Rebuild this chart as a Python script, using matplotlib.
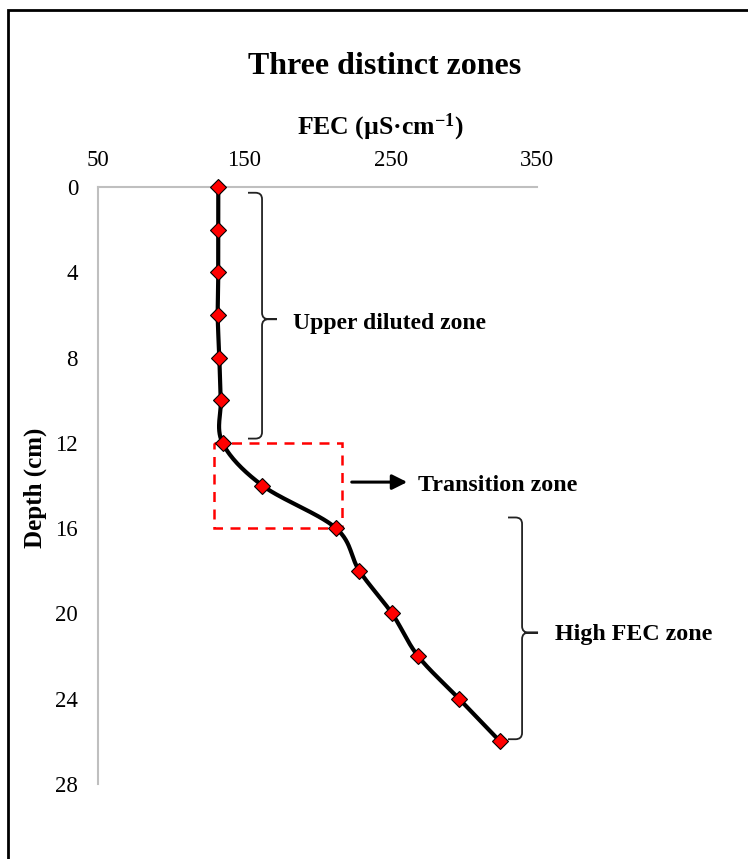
import numpy as np
import matplotlib
matplotlib.use("Agg")
import matplotlib.pyplot as plt
from matplotlib.path import Path
from matplotlib.patches import PathPatch, Rectangle

plt.rcParams['font.family'] = ['Liberation Serif', 'DejaVu Serif']
plt.rcParams['mathtext.fontset'] = 'custom'
plt.rcParams['mathtext.rm'] = 'Liberation Serif:bold'
plt.rcParams['mathtext.bf'] = 'Liberation Serif:bold'
plt.rcParams['mathtext.default'] = 'bf'

# ---- data ----
depth = [0, 2, 4, 6, 8, 10, 12, 14, 16, 18, 20, 22, 24, 26]
fec = [132.2, 132.2, 132.2, 131.8, 132.9, 133.9, 135.1, 162.3, 212.6, 228.6, 250.9, 268.7, 296.7, 324.7]
x_ticks = [50, 150, 250, 350]
y_ticks = [0, 4, 8, 12, 16, 20, 24, 28]
title = "Three distinct zones"
x_label = "FEC (µS·cm$^{-1}$)"
y_label = "Depth (cm)"
zone_labels = ["Upper diluted zone", "Transition zone", "High FEC zone"]

W, H = 748, 859
fig = plt.figure(figsize=(W / 100, H / 100), dpi=100)
ax = fig.add_axes([98 / W, 1 - 784 / H, (537 - 98) / W, (784 - 187) / H])

# smoothed line (Excel-like Bezier smoothing)
P = np.column_stack([fec, depth]).astype(float)
n = len(P)
xs, ys = [], []
for i in range(n - 1):
    p0 = P[max(i - 1, 0)]
    p1 = P[i]
    p2 = P[i + 1]
    p3 = P[min(i + 2, n - 1)]
    c1 = p1 + (p2 - p0) / 6.0
    c2 = p2 - (p3 - p1) / 6.0
    t = np.linspace(0, 1, 30)[:, None]
    seg = (1 - t) ** 3 * p1 + 3 * (1 - t) ** 2 * t * c1 + 3 * (1 - t) * t ** 2 * c2 + t ** 3 * p2
    xs.extend(seg[:, 0]); ys.extend(seg[:, 1])
ax.plot(xs, ys, color='black', lw=3, solid_capstyle='round', zorder=3, clip_on=False)
ax.plot(fec, depth, ls='none', marker='D', ms=8.5, mfc='#FF0000', mec='black', mew=0.8, zorder=4, clip_on=False)

ax.set_xlim(50, 350)
ax.set_ylim(28, 0)
ax.xaxis.tick_top()
ax.set_xticks(x_ticks)
ax.set_yticks(y_ticks)
ax.tick_params(length=0, labelsize=16.5, colors='black')
ax.tick_params(axis='y', pad=14.4)
ax.tick_params(axis='x', pad=11.5)
for s in ['right', 'bottom']:
    ax.spines[s].set_visible(False)
for s in ['left', 'top']:
    ax.spines[s].set_color('#BFBFBF')
    ax.spines[s].set_linewidth(1.5)

# texts
fig.text(385 / W, 1 - 66 / H, title, ha='center', va='center', fontsize=23, fontweight='bold')
fig.text(380 / W, 1 - 127 / H, x_label, ha='center', va='center', fontsize=18.5, fontweight='bold')
fig.text(35 / W, 1 - 488 / H, y_label, ha='center', va='center', fontsize=18, fontweight='bold', rotation=90)

# transition box
ax.add_patch(Rectangle((129.3, 12), 216.7 - 129.3, 4, fill=False, ec='#FF0000', ls=(0, (4, 3)), lw=1.8, zorder=2))

# arrow
ax.annotate('', xy=(263.2, 13.84), xytext=(221.5, 13.84),
            arrowprops=dict(arrowstyle='-|>,head_length=0.9,head_width=0.45', color='black', lw=2.2),
            annotation_clip=False)


def brace(xl, xs_, xt, top, mid, bot):
    rx, ry = 4.5, 0.3
    verts = [(xl, top), (xs_ - rx, top), (xs_, top), (xs_, top + ry), (xs_, mid - ry),
             (xs_, mid), (xs_ + rx, mid), (xt, mid),
             (xs_ + rx, mid), (xs_, mid), (xs_, mid + ry), (xs_, bot - ry),
             (xs_, bot), (xs_ - rx, bot), (xl, bot)]
    codes = [Path.MOVETO, Path.LINETO, Path.CURVE3, Path.CURVE3, Path.LINETO,
             Path.CURVE3, Path.CURVE3, Path.LINETO,
             Path.LINETO, Path.CURVE3, Path.CURVE3, Path.LINETO,
             Path.CURVE3, Path.CURVE3, Path.LINETO]
    ax.add_patch(PathPatch(Path(verts, codes), fill=False, ec='#222222', lw=1.3, clip_on=False, zorder=2))


brace(152.5, 162.1, 172.3, 0.27, 6.2, 11.8)
brace(330.2, 339.8, 350.7, 15.5, 20.9, 25.9)

ax.text(183.3, 6.4, zone_labels[0], ha='left', va='center', fontsize=17, fontweight='bold', clip_on=False)
ax.text(268.7, 14.0, zone_labels[1], ha='left', va='center', fontsize=17.3, fontweight='bold', clip_on=False)
ax.text(362.3, 21.0, zone_labels[2], ha='left', va='center', fontsize=17.3, fontweight='bold', clip_on=False)

# outer frame
fig.add_artist(Rectangle((8 / W, -0.1), 2, 1.1 - 10 / H, transform=fig.transFigure,
                         fill=False, ec='black', lw=2))

fig.savefig('out.png', dpi=100)
